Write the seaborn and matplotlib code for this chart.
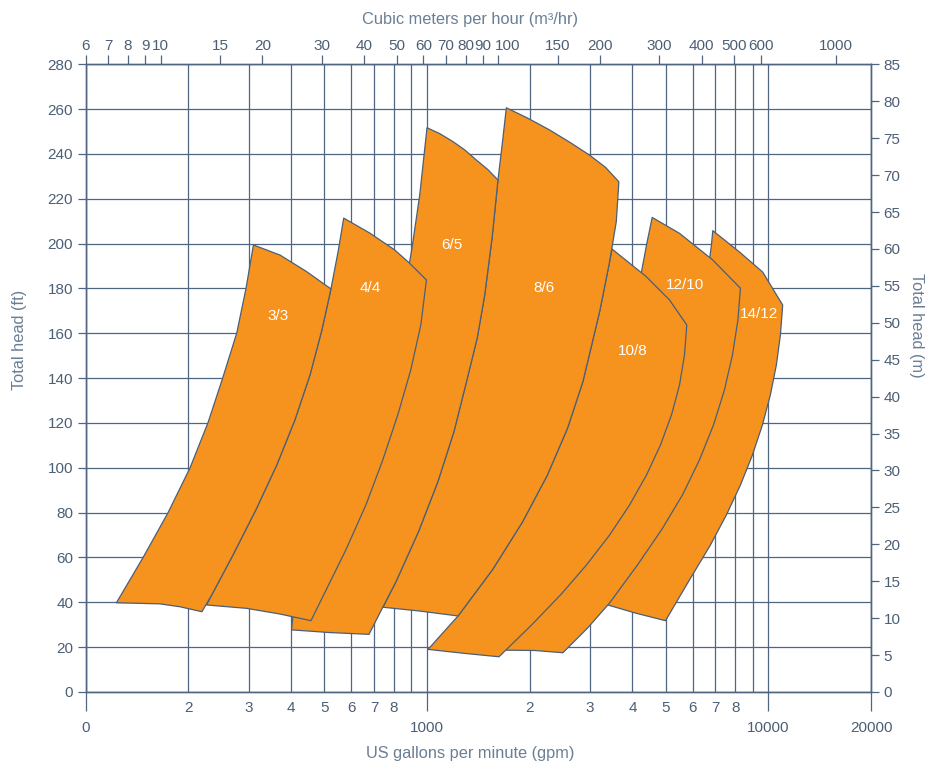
import matplotlib
matplotlib.use("Agg")
import matplotlib.pyplot as plt
import matplotlib.transforms as mtransforms
import seaborn as sns

sns.set_theme(style="ticks")
plt.rcParams["font.family"] = ["Liberation Sans", "DejaVu Sans"]

# Colors
ORANGE = "#F6921E"
EDGE = "#4A5F78"
GRID = "#4F6580"
TEXT = "#4C5F75"
LABEL = "#6A7E94"

# Pump ranges: outline points (US gpm, total head ft)
GPM_33 = [123, 147, 174, 202, 228, 252, 277, 295, 310, 371, 444, 523, 492, 454, 410, 363, 315, 270, 234, 219, 189, 165]
HEAD_33 = [39.8, 59.8, 79.8, 99.9, 120.0, 140.1, 160.1, 180.2, 199.4, 194.9, 187.5, 179.8, 161.5, 141.4, 121.3, 101.3, 81.2, 61.1, 43.3, 35.8, 38.0, 39.3]

GPM_44 = [226, 234, 270, 315, 363, 410, 454, 492, 523, 550, 570, 680, 804, 890, 996, 959, 896, 821, 742, 662, 578, 498, 457, 370, 296]
HEAD_44 = [38.8, 43.3, 61.1, 81.2, 101.3, 121.3, 141.4, 161.5, 179.8, 197.2, 211.4, 204.7, 197.2, 191.2, 183.8, 163.7, 143.6, 123.6, 103.5, 83.4, 63.3, 43.3, 31.8, 34.8, 37.3]

GPM_65 = [1000, 1089, 1192, 1290, 1395, 1506, 1614, 1552, 1476, 1403, 1305, 1199, 1076, 944, 811, 742, 676, 519, 401, 405, 424, 479, 574, 680, 778, 860, 902, 952]
HEAD_65 = [251.7, 249.1, 245.5, 241.8, 237.3, 233.1, 228.4, 203.0, 177.1, 157.9, 138.4, 116.1, 93.8, 71.5, 49.2, 37.8, 25.7, 26.5, 27.7, 34.8, 38.8, 56.7, 85.6, 116.9, 148.1, 179.3, 197.2, 221.7]

GPM_86 = [1708, 1972, 2287, 2616, 2994, 3336, 3649, 3586, 3427, 3204, 2862, 2578, 2250, 1902, 1558, 1233, 952, 743, 811, 944, 1076, 1199, 1305, 1403, 1476, 1552, 1614, 1660]
HEAD_86 = [260.6, 256.0, 250.7, 245.3, 239.5, 234.0, 227.6, 209.8, 191.9, 169.6, 138.4, 117.5, 96.6, 75.7, 54.7, 33.9, 36.1, 37.8, 49.2, 71.5, 93.8, 116.1, 138.4, 157.9, 177.1, 203.0, 228.4, 244.0]

GPM_108 = [1007, 1233, 1558, 1902, 2250, 2578, 2862, 3204, 3427, 3485, 4388, 5134, 5770, 5681, 5493, 5204, 4832, 4397, 3922, 3427, 2934, 2462, 2025, 1625, 1290]
HEAD_108 = [19.0, 33.9, 54.7, 75.7, 96.6, 117.5, 138.4, 169.6, 191.9, 197.6, 185.3, 174.9, 163.7, 150.3, 136.9, 123.6, 110.2, 96.8, 83.4, 70.0, 56.7, 43.3, 29.9, 15.7, 17.2]

GPM_1210 = [4569, 5493, 6876, 8285, 8146, 7850, 7438, 6909, 6284, 5605, 4865, 4139, 3427, 2954, 2501, 2067, 1578, 1998, 2616, 3313, 3869, 4139, 4139, 4243, 4397]
HEAD_1210 = [211.7, 204.6, 192.7, 180.1, 165.9, 150.3, 134.7, 119.1, 103.5, 87.9, 72.3, 56.7, 39.7, 28.5, 17.5, 18.5, 18.7, 36.6, 58.9, 81.2, 103.5, 130.3, 165.9, 186.8, 199.4]

GPM_1412 = [6876, 8230, 9630, 11020, 10850, 10560, 10140, 9610, 8985, 8285, 7539, 6770, 5876, 4998, 4102, 3388, 3097, 3922, 4964, 5876, 6413, 6633, 6723, 6814]
HEAD_1412 = [205.8, 196.3, 187.3, 172.6, 159.2, 145.9, 132.5, 119.1, 105.7, 92.3, 79.0, 65.6, 50.0, 31.8, 35.1, 38.8, 38.4, 58.9, 85.6, 112.4, 139.2, 165.9, 192.7, 199.4]

PUMP_NAMES = ["3/3", "4/4", "6/5", "8/6", "10/8", "12/10", "14/12"]
PUMP_GPM = [GPM_33, GPM_44, GPM_65, GPM_86, GPM_108, GPM_1210, GPM_1412]
PUMP_HEAD = [HEAD_33, HEAD_44, HEAD_65, HEAD_86, HEAD_108, HEAD_1210, HEAD_1412]
LABEL_GPM = [366, 680, 1181, 2196, 4002, 5708, 9419]
LABEL_HEAD = [167.7, 180.2, 199.4, 180.2, 152.1, 181.5, 168.6]

# Axes ticks
BOTTOM_MAJOR = [100, 1000, 10000, 20000]
BOTTOM_MAJOR_LABELS = ["0", "1000", "10000", "20000"]
BOTTOM_MINOR = [200, 300, 400, 500, 600, 700, 800, 900,
                2000, 3000, 4000, 5000, 6000, 7000, 8000, 9000]
BOTTOM_MINOR_LABELS = ["2", "3", "4", "5", "6", "7", "8", "",
                       "2", "3", "4", "5", "6", "7", "8", ""]
TOP_M3 = [6, 7, 8, 9, 10, 15, 20, 30, 40, 50, 60, 70, 80, 90, 100, 150, 200, 300, 400, 500, 600, 1000]
TOP_LIMITS = (6, 1270)
HEAD_FT_TICKS = list(range(0, 281, 20))
HEAD_M_TICKS = list(range(0, 86, 5))

fig = plt.figure(figsize=(9.37, 7.63), dpi=100)
ax = fig.add_axes([0.0915, 0.0931, 0.8381, 0.8226])
ax.set_xscale("log")
ax.set_xlim(100, 20000)
ax.set_ylim(0, 280)
ax.set_axisbelow(True)

# Pump regions, drawn right to left so the smaller pump sits on top
for i in range(len(PUMP_NAMES) - 1, -1, -1):
    ax.fill(PUMP_GPM[i], PUMP_HEAD[i], facecolor=ORANGE, edgecolor=EDGE,
            linewidth=0.9, joinstyle="round", zorder=3 + (len(PUMP_NAMES) - i))
for name, gx, hy in zip(PUMP_NAMES, LABEL_GPM, LABEL_HEAD):
    ax.text(gx, hy, name, color="white", fontsize=11, ha="center", va="center", zorder=20)

# Bottom axis (gpm)
ax.set_xticks(BOTTOM_MAJOR)
ax.set_xticklabels(BOTTOM_MAJOR_LABELS)
ax.set_xticks(BOTTOM_MINOR, minor=True)
ax.set_xticklabels(BOTTOM_MINOR_LABELS, minor=True)
ax.tick_params(axis="x", which="major", length=14, width=0.9, color=GRID, pad=7,
               labelsize=11, labelcolor=TEXT, direction="out")
ax.tick_params(axis="x", which="minor", length=0, pad=6.5, labelsize=11, labelcolor=TEXT)

# Left axis (ft)
ax.set_yticks(HEAD_FT_TICKS)
ax.tick_params(axis="y", which="major", length=6, width=0.9, color=GRID, pad=3,
               labelsize=11, labelcolor=TEXT, direction="out")

ax.grid(True, which="major", axis="both", color=GRID, linewidth=0.9)
ax.grid(True, which="minor", axis="x", color=GRID, linewidth=0.9)
for sp in ax.spines.values():
    sp.set_color(GRID)
    sp.set_linewidth(0.9)

# Top axis (m3/hr)
axt = ax.twiny()
axt.set_xscale("log")
axt.set_xlim(*TOP_LIMITS)
axt.set_xticks(TOP_M3)
axt.set_xticklabels([str(v) for v in TOP_M3])
axt.xaxis.set_minor_locator(matplotlib.ticker.NullLocator())
axt.tick_params(axis="x", which="major", top=True, labeltop=True, bottom=False, labelbottom=False,
                length=6.5, width=0.9, color=GRID, pad=2, labelsize=11, labelcolor=TEXT, direction="out")
axt.grid(False)
# the "100" label sits just right of its tick in the original
for lbl in axt.get_xticklabels():
    if lbl.get_text() == "100":
        lbl.set_horizontalalignment("left")
        lbl.set_transform(lbl.get_transform() + mtransforms.ScaledTranslation(-3 / 100, 0, fig.dpi_scale_trans))

# Right axis (m)
axr = ax.twinx()
axr.set_ylim(0, 85)
axr.set_yticks(HEAD_M_TICKS)
axr.tick_params(axis="y", which="major", right=True, labelright=True, left=False, labelleft=False,
                length=6, width=0.9, color=GRID, pad=3, labelsize=11, labelcolor=TEXT, direction="out")
axr.grid(False)
for a in (axt, axr):
    for sp in a.spines.values():
        sp.set_color(GRID)
        sp.set_linewidth(0.9)

# Axis titles
fig.text(0.5016, 0.0131, "US gallons per minute (gpm)", ha="center", va="center", fontsize=11.8, color=LABEL)
fig.text(0.5016, 0.9738, "Cubic meters per hour (m\u00b3/hr)", ha="center", va="center", fontsize=11.8, color=LABEL)
fig.text(0.0213, 0.5544, "Total head (ft)", ha="center", va="center", rotation=90, fontsize=11.8, color=LABEL)
fig.text(0.9776, 0.574, "Total head (m)", ha="center", va="center", rotation=270, fontsize=11.8, color=LABEL)

fig.savefig("out.png", dpi=100)
